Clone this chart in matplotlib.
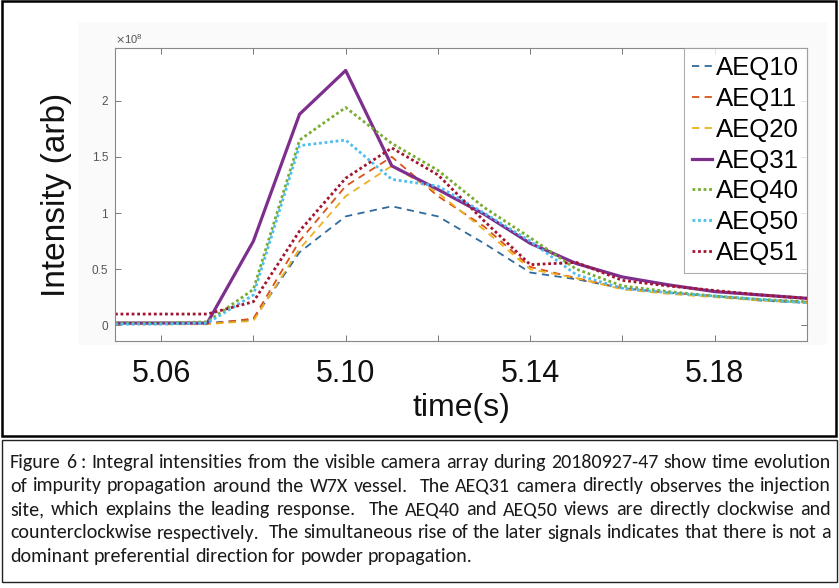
import matplotlib
matplotlib.use("Agg")
import matplotlib.pyplot as plt
from matplotlib import font_manager
from matplotlib.patches import Rectangle
from matplotlib.ticker import ScalarFormatter, FixedLocator

# ---- data (intensity in units of 1e8) ----
times = [5.05, 5.06, 5.07, 5.08, 5.09, 5.10, 5.11, 5.12,
         5.13, 5.14, 5.15, 5.16, 5.17, 5.18, 5.19, 5.20]
aeq10 = [0.02, 0.02, 0.02, 0.05, 0.65, 0.97, 1.06, 0.97, 0.73, 0.47, 0.41, 0.33, 0.29, 0.26, 0.22, 0.20]
aeq11 = [0.01, 0.01, 0.01, 0.06, 0.75, 1.24, 1.50, 1.15, 0.88, 0.52, 0.42, 0.33, 0.29, 0.26, 0.23, 0.21]
aeq20 = [0.01, 0.01, 0.01, 0.04, 0.68, 1.15, 1.42, 1.18, 0.85, 0.50, 0.42, 0.32, 0.28, 0.25, 0.22, 0.20]
aeq31 = [0.02, 0.02, 0.02, 0.75, 1.88, 2.27, 1.42, 1.21, 0.99, 0.73, 0.55, 0.43, 0.36, 0.30, 0.27, 0.24]
aeq40 = [0.02, 0.02, 0.03, 0.32, 1.65, 1.94, 1.62, 1.38, 1.05, 0.78, 0.50, 0.35, 0.30, 0.26, 0.23, 0.21]
aeq50 = [0.01, 0.01, 0.02, 0.27, 1.60, 1.65, 1.30, 1.24, 1.00, 0.75, 0.45, 0.33, 0.29, 0.26, 0.23, 0.20]
aeq51 = [0.10, 0.10, 0.10, 0.21, 0.84, 1.31, 1.58, 1.34, 0.93, 0.54, 0.56, 0.40, 0.35, 0.31, 0.27, 0.24]
SCALE = 1e8

names = ["AEQ10", "AEQ11", "AEQ20", "AEQ31", "AEQ40", "AEQ50", "AEQ51"]
series = [aeq10, aeq11, aeq20, aeq31, aeq40, aeq50, aeq51]
colors = ["#2f6a9c", "#D95319", "#EDB120", "#7E2F8E", "#77AC30", "#4DBEEE", "#A2142F"]
styles = [(0, (4, 3)), (0, (4, 3)), (0, (4, 3)), "-", (0, (1, 1)), (0, (1, 1)), (0, (1, 1))]
widths = [1.3, 1.3, 1.3, 2.3, 2.0, 2.0, 2.0]

xtick_pos = [5.06, 5.08, 5.10, 5.12, 5.14, 5.16, 5.18]
xtick_lab = ["5.06", "", "5.10", "", "5.14", "", "5.18"]
ytick_pos = [0, 0.5, 1.0, 1.5, 2.0]

caption_lines = [
    "Figure 6 : Integral intensities from the visible camera array during 20180927-47 show time evolution",
    "of impurity propagation around the W7X vessel.  The AEQ31 camera directly observes the injection",
    "site, which explains the leading response.  The AEQ40 and AEQ50 views are directly clockwise and",
    "counterclockwise respectively.  The simultaneous rise of the later signals indicates that there is not a",
    "dominant preferential direction for powder propagation.",
]


def pick_font(candidates):
    for name in candidates:
        try:
            font_manager.findfont(font_manager.FontProperties(family=name),
                                  fallback_to_default=False)
            return name
        except Exception:
            continue
    return "DejaVu Sans"


class CompactScalarFormatter(ScalarFormatter):
    """Scientific offset on the axis, tick labels without trailing zeros."""

    def _set_format(self):
        super()._set_format()
        self.format = "%g"


main_font = pick_font(["Liberation Sans", "Arial", "DejaVu Sans"])
cap_font = pick_font(["Carlito", "Liberation Sans Narrow", "Open Sans", "DejaVu Sans"])
plt.rcParams["font.family"] = [main_font, "DejaVu Sans"]

W, H = 839, 588
fig = plt.figure(figsize=(W / 100, H / 100), dpi=100)
fig.patch.set_facecolor("white")


def fx(px):
    return px / W


def fy(py):
    return 1 - py / H


# faint backdrop behind the axes region
fig.patches.append(Rectangle((fx(78), fy(345)), fx(827) - fx(78), fy(22) - fy(345),
                             transform=fig.transFigure, facecolor="#fafafa",
                             edgecolor="none", zorder=0))

# panel frames
fig.patches.append(Rectangle((fx(2), fy(436)), fx(836) - fx(2), fy(1.5) - fy(436),
                             transform=fig.transFigure, facecolor="none",
                             edgecolor="black", linewidth=1.8, zorder=5))
fig.patches.append(Rectangle((fx(2), fy(582)), fx(836.5) - fx(2), fy(440) - fy(582),
                             transform=fig.transFigure, facecolor="none",
                             edgecolor="#222222", linewidth=1.0, zorder=5))

ax = fig.add_axes([fx(115), fy(341), fx(807) - fx(115), fy(48) - fy(341)])
ax.set_zorder(2)
ax.set_facecolor("white")

for name, vals, c, ls, lw in zip(names, series, colors, styles, widths):
    ax.plot(times, [v * SCALE for v in vals], color=c, linestyle=ls,
            linewidth=lw, label=name)

ax.set_xlim(5.05, 5.20)
ax.set_ylim(-0.14 * SCALE, 2.47 * SCALE)

ax.xaxis.set_major_locator(FixedLocator(xtick_pos))
ax.set_xticklabels(xtick_lab)
ax.set_yticks([v * SCALE for v in ytick_pos])

fmt = CompactScalarFormatter(useMathText=True)
fmt.set_powerlimits((0, 0))
ax.yaxis.set_major_formatter(fmt)
ax.yaxis.get_offset_text().set_fontsize(8)
ax.yaxis.get_offset_text().set_color("#666666")

ax.tick_params(axis="both", direction="in", top=True, right=True,
               length=4, width=0.7, color="#777777")
ax.tick_params(axis="x", labelsize=22, pad=13, labelcolor="#111111")
ax.tick_params(axis="y", labelsize=8.5, pad=5, labelcolor="#555555")
for sp in ax.spines.values():
    sp.set_color("#888888")
    sp.set_linewidth(0.8)

ax.set_xlabel("time(s)", fontsize=23, labelpad=3, color="#111111")
ax.set_ylabel("Intensity (arb)", fontsize=24, labelpad=14, color="#111111")

leg = ax.legend(loc="upper right", fontsize=18.5, frameon=True, fancybox=False,
                borderaxespad=0, borderpad=0.3, labelspacing=0.27,
                handlelength=0.8, handletextpad=0.15)
leg.get_frame().set_edgecolor("#999999")
leg.get_frame().set_linewidth(0.8)

# caption, justified across the box width
renderer = fig.canvas.get_renderer()
probe = fig.text(0, 0, caption_lines[4], fontsize=12, family=[cap_font, "DejaVu Sans"])
w12 = probe.get_window_extent(renderer).width
probe.remove()
cap_size = 12 * 460.0 / w12

left_px, right_px = 10.0, 831.0
baselines = [468, 491.5, 515, 538.5, 562]
for i, line in enumerate(caption_lines):
    words = line.split(" ")
    texts = []
    for wd in words:
        t = fig.text(0, fy(baselines[i]), wd, fontsize=cap_size,
                     family=[cap_font, "DejaVu Sans"], color="#1a1a1a",
                     va="baseline", ha="left")
        texts.append(t)
    widths_px = [t.get_window_extent(renderer).width if wd else 0.0
                 for t, wd in zip(texts, words)]
    space = fig.text(0, 0, "a a", fontsize=cap_size, family=[cap_font, "DejaVu Sans"])
    sp_w = space.get_window_extent(renderer).width
    aa = fig.text(0, 0, "aa", fontsize=cap_size, family=[cap_font, "DejaVu Sans"])
    sp_w -= aa.get_window_extent(renderer).width
    space.remove()
    aa.remove()
    gaps = len(words) - 1
    if i < len(caption_lines) - 1 and gaps > 0:
        gap = (right_px - left_px - sum(widths_px)) / gaps
    else:
        gap = sp_w
    x = left_px
    for t, wpx in zip(texts, widths_px):
        t.set_x(fx(x))
        x += wpx + gap

fig.savefig("out.png", dpi=100, facecolor="white")
